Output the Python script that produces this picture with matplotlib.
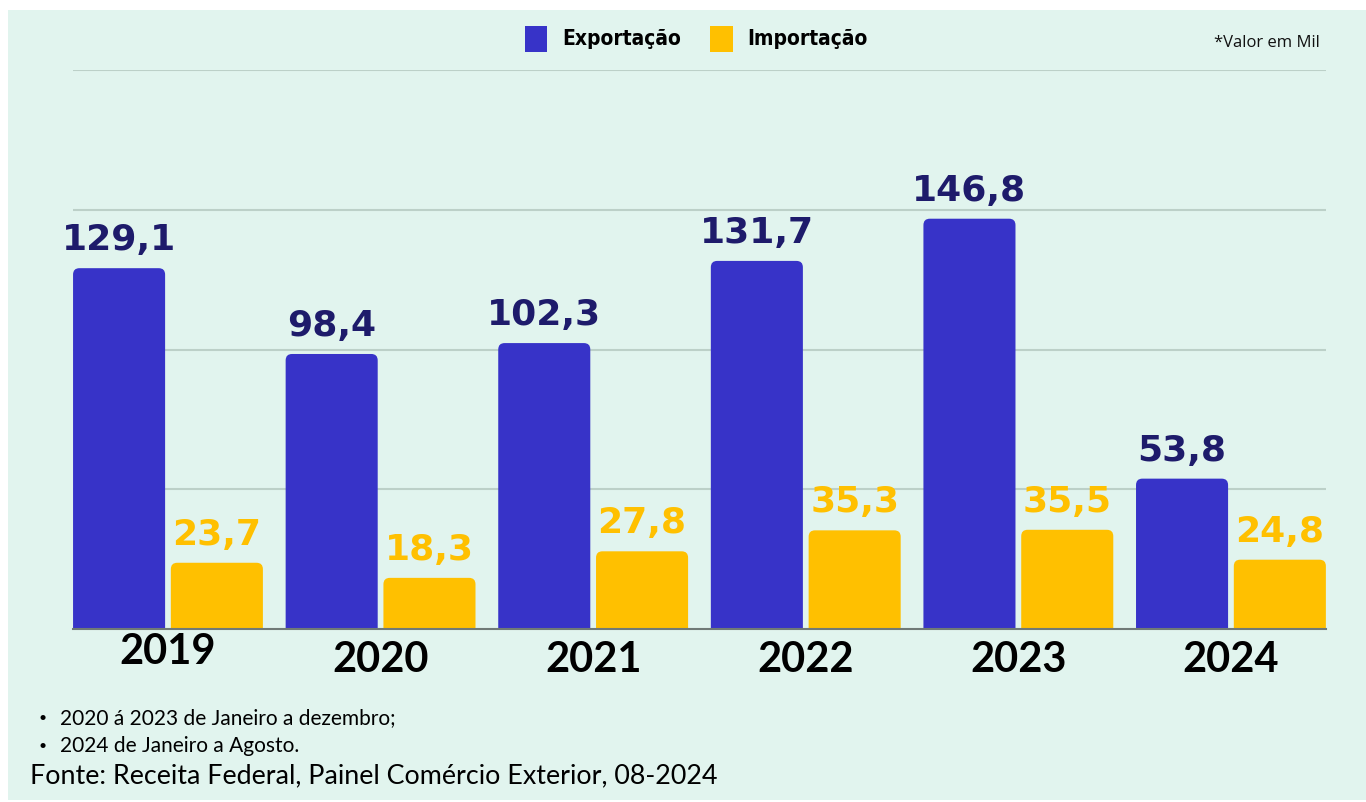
import matplotlib.pyplot as plt
import numpy as np
from matplotlib.patches import Rectangle, FancyBboxPatch

# Dados (valores em mil)
anos = ['2019', '2020', '2021', '2022', '2023', '2024']
exportacao = [129.1, 98.4, 102.3, 131.7, 146.8, 53.8]
importacao = [23.7, 18.3, 27.8, 35.3, 35.5, 24.8]
notas = ['2020 á 2023 de Janeiro a dezembro;', '2024 de Janeiro a Agosto.']
fonte = 'Fonte: Receita Federal, Painel Comércio Exterior, 08-2024'

cor_exp = '#3733C8'
cor_imp = '#FFC000'
cor_fundo = '#E1F4EE'


def fmt(v):
    return f'{v:.1f}'.replace('.', ',')


fig = plt.figure(figsize=(13.66, 8.02), dpi=100)
fig.patch.set_facecolor('white')
fig.patches.append(Rectangle((8 / 1366, 0.003), 1, 1 - 10 / 802 - 0.003,
                             transform=fig.transFigure, facecolor=cor_fundo,
                             edgecolor='none', zorder=-10))

ax = fig.add_axes([0.0534, 0.2157, 0.9173, 0.697])
ax.set_facecolor('none')

x = np.arange(len(anos))
largura = 0.433
desloc = 0.23

b1 = ax.bar(x - desloc, exportacao, largura, color=cor_exp)
b2 = ax.bar(x + desloc, importacao, largura, color=cor_imp)

ax.set_xlim(-0.447, len(anos) - 1 + 0.447)
ax.set_ylim(0, 200)

# cantos arredondados no topo das barras
aspecto = (0.9173 * 1366 / (ax.get_xlim()[1] - ax.get_xlim()[0])) / (0.697 * 802 / 200)
for cont in (b1, b2):
    for r in cont:
        r.set_visible(False)
        p = FancyBboxPatch((r.get_x(), -5), r.get_width(), r.get_height() + 5,
                           boxstyle='round,pad=0,rounding_size=0.03',
                           mutation_aspect=aspecto, facecolor=r.get_facecolor(),
                           edgecolor='none', zorder=3)
        ax.add_patch(p)

for r, v in zip(b1, exportacao):
    ax.annotate(fmt(v), (r.get_x() + r.get_width() / 2, v), xytext=(0, 8),
                textcoords='offset points', ha='center', va='bottom',
                fontsize=26, fontweight='bold', color='#1E1B6B', family='DejaVu Sans')
for r, v in zip(b2, importacao):
    ax.annotate(fmt(v), (r.get_x() + r.get_width() / 2, v), xytext=(0, 8),
                textcoords='offset points', ha='center', va='bottom',
                fontsize=26, fontweight='bold', color=cor_imp, family='DejaVu Sans')

ax.set_yticks([50, 100, 150, 200])
ax.yaxis.grid(True, color='#BCD0C8', linewidth=1.5)
ax.set_axisbelow(True)
ax.tick_params(left=False, labelleft=False, bottom=False, labelbottom=False)
for s in ['top', 'right', 'left']:
    ax.spines[s].set_visible(False)
ax.spines['bottom'].set_color('#707A77')
ax.spines['bottom'].set_linewidth(1.5)
ax.spines['bottom'].set_zorder(4)

# rótulos dos anos (2019 um pouco mais alto, como no original)
for i, ano in enumerate(anos):
    yy = 652 if i == 0 else 660
    fig.text((73 + (i + 0.447) * 1253 / (len(anos) - 1 + 0.894)) / 1366, 1 - yy / 802, ano,
             ha='center', va='center', fontsize=30, fontweight='bold',
             family='Lato', color='black')

# legenda
fig.patches.append(Rectangle((525 / 1366, 1 - 52 / 802), 22 / 1366, 26 / 802,
                             transform=fig.transFigure, facecolor=cor_exp))
fig.patches.append(Rectangle((710 / 1366, 1 - 52 / 802), 23 / 1366, 26 / 802,
                             transform=fig.transFigure, facecolor=cor_imp))
fig.text(562 / 1366, 1 - 39 / 802, 'Exportação', ha='left', va='center',
         fontsize=15, fontweight='bold', fontstretch='condensed', family='DejaVu Sans')
fig.text(747 / 1366, 1 - 39 / 802, 'Importação', ha='left', va='center',
         fontsize=15, fontweight='bold', fontstretch='condensed', family='DejaVu Sans')

fig.text(1320 / 1366, 1 - 43 / 802, '*Valor em Mil', ha='right', va='center',
         fontsize=12, family='Open Sans', color='#111111')

# notas e fonte
for j, n in enumerate(notas):
    yy = 718 + j * 28
    fig.text(38 / 1366, 1 - yy / 802, '•', ha='left', va='center', fontsize=10, family='Lato')
    fig.text(60 / 1366, 1 - yy / 802, n, ha='left', va='center', fontsize=15, family='Lato')
fig.text(30 / 1366, 1 - 776 / 802, fonte, ha='left', va='center', fontsize=19.4, family='Lato')

fig.savefig('out.png', dpi=100, facecolor=fig.get_facecolor())
